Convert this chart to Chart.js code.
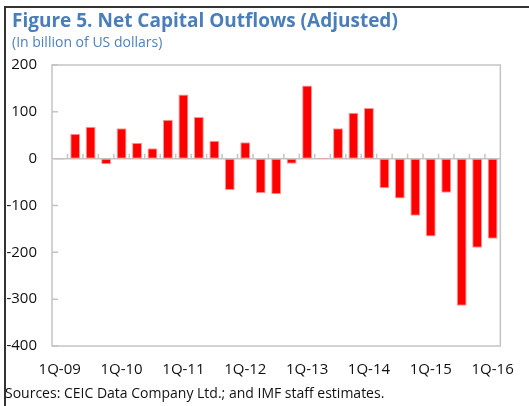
<!DOCTYPE html>
<html>
<head>
<meta charset="utf-8">
<script src="https://cdn.jsdelivr.net/npm/chart.js@4/dist/chart.umd.min.js"></script>
<style>
  html, body { margin: 0; padding: 0; background: #fff; }
  #wrap { position: relative; width: 529px; height: 406px; overflow: hidden; font-family: "Open Sans", sans-serif; }
  #frame { position: absolute; left: 4px; top: 6px; right: -4px; bottom: -4px; border-top: 2px solid #333; border-left: 2px solid #333; }
  #title { position: absolute; left: 12px; top: 7px; font-size: 19px; font-weight: bold; color: #4a7ebb; white-space: nowrap; }
  #subtitle { position: absolute; left: 12px; top: 32px; font-size: 14px; color: #4f81bd; white-space: nowrap; }
  #source { position: absolute; left: 5px; top: 383px; font-size: 14px; color: #111; white-space: nowrap; }
  #chart { position: absolute; left: 0; top: 0; }
</style>
</head>
<body>
<div id="wrap">
  <div id="frame"></div>
  <canvas id="chart" width="529" height="406"></canvas>
  <div id="title">Figure 5. Net Capital Outflows (Adjusted)</div>
  <div id="subtitle">(In billion of US dollars)</div>
  <div id="source">Sources: CEIC Data Company Ltd.; and IMF staff estimates.</div>
</div>
<script>
// Quarters 1Q-09 .. 1Q-16 (only every 4th quarter gets a label)
const quarters = [];
for (let y = 9; y <= 16; y++) {
    for (let q = 1; q <= 4; q++) {
        if (y === 16 && q > 1) break;
        quarters.push(q + 'Q-' + String(y).padStart(2, '0'));
    }
}

// Net capital outflows, billion USD
const outflows = [
    -2, 53, 68, -12, 65, 34, 22, 83,
    137, 89, 38, -67, 35, -74, -76, -11,
    156, 2, 65, 98, 108, -63, -85, -122,
    -166, -73, -314, -190, -171
];

const yTicks = [200, 100, 0, -100, -200, -300, -400];

// Draws the plot frame, zero line and the small tick marks
const framePlugin = {
    id: 'framePlugin',
    beforeDatasetsDraw(chart) {
        const { ctx, chartArea: a, scales } = chart;
        const x = scales.x, y = scales.y;
        ctx.save();
        ctx.strokeStyle = '#c4c4c4';
        ctx.lineWidth = 1.5;
        ctx.strokeRect(a.left, a.top, a.right - a.left, a.bottom - a.top);

        const y0 = y.getPixelForValue(0);
        ctx.beginPath();
        ctx.moveTo(a.left, y0);
        ctx.lineTo(a.right, y0);
        // x tick marks at quarter boundaries, pointing up
        for (let i = 1; i < quarters.length; i++) {
            const px = x.getPixelForValue(i - 0.5);
            ctx.moveTo(px, y0);
            ctx.lineTo(px, y0 - 5);
        }
        // y tick marks pointing into the plot
        yTicks.forEach(v => {
            const py = y.getPixelForValue(v);
            ctx.moveTo(a.left, py);
            ctx.lineTo(a.left + 6, py);
        });
        ctx.stroke();
        ctx.restore();
    }
};

const ctx = document.getElementById('chart').getContext('2d');
new Chart(ctx, {
    type: 'bar',
    data: {
        labels: quarters,
        datasets: [{
            data: outflows,
            backgroundColor: '#ff0000',
            borderColor: 'rgba(255,140,140,0.9)',
            borderWidth: 1,
            borderSkipped: false,
            categoryPercentage: 1,
            barPercentage: 0.64
        }]
    },
    options: {
        responsive: false,
        animation: false,
        devicePixelRatio: 1,
        layout: { padding: { left: 0, right: 16, top: 65, bottom: 0 } },
        plugins: {
            legend: { display: false },
            tooltip: { enabled: false }
        },
        scales: {
            x: {
                grid: { display: false, drawTicks: false },
                border: { display: false },
                afterFit(scale) { scale.height = 60; },
                ticks: {
                    autoSkip: false,
                    maxRotation: 0,
                    padding: 15,
                    color: '#111',
                    font: { family: 'Open Sans', size: 15 },
                    callback(val, i) { return i % 4 === 0 ? quarters[i] : ''; }
                }
            },
            y: {
                min: -400,
                max: 200,
                grid: { display: false, drawTicks: false },
                border: { display: false },
                afterFit(scale) { scale.width = 52; },
                afterBuildTicks(scale) { scale.ticks = yTicks.map(v => ({ value: v })); },
                ticks: {
                    padding: 15,
                    color: '#111',
                    font: { family: 'Open Sans', size: 15 }
                }
            }
        }
    },
    plugins: [framePlugin]
});
</script>
</body>
</html>
